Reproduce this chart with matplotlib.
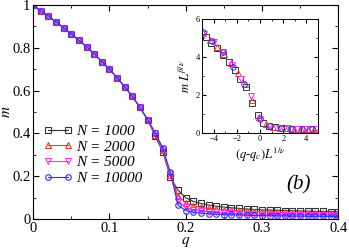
import numpy as np
import matplotlib
matplotlib.use("Agg")
import matplotlib.pyplot as plt
from matplotlib.ticker import MultipleLocator

plt.rcParams['font.family'] = ['Liberation Serif', 'DejaVu Serif']
plt.rcParams['mathtext.fontset'] = 'stix'

# main panel data: m(q) for several system sizes
q = [0.00, 0.01, 0.02, 0.03, 0.04, 0.05, 0.06, 0.07, 0.08, 0.09, 0.10,
     0.11, 0.12, 0.13, 0.14, 0.15, 0.16, 0.17, 0.18, 0.19, 0.20, 0.21,
     0.22, 0.23, 0.24, 0.25, 0.26, 0.27, 0.28, 0.29, 0.30, 0.31, 0.32,
     0.33, 0.34, 0.35, 0.36, 0.37, 0.38, 0.39, 0.40]
m_head = [1.0, 0.972, 0.948, 0.921, 0.893, 0.864, 0.835, 0.805, 0.772,
          0.736, 0.700, 0.660, 0.618, 0.573, 0.522, 0.465]
m_1000 = m_head + [0.388, 0.315, 0.195, 0.135, 0.100, 0.083, 0.073, 0.066,
                   0.060, 0.056, 0.053, 0.050, 0.047, 0.045, 0.043,
                   0.042, 0.041, 0.040, 0.039, 0.038, 0.037, 0.036,
                   0.036, 0.035, 0.034]
m_2000 = m_head + [0.395, 0.322, 0.205, 0.110, 0.075, 0.062, 0.055, 0.050,
                   0.046, 0.043, 0.041, 0.039, 0.037, 0.035, 0.034,
                   0.033, 0.032, 0.031, 0.030, 0.029, 0.028, 0.028,
                   0.027, 0.027, 0.026]
m_5000 = m_head + [0.400, 0.327, 0.210, 0.085, 0.055, 0.044, 0.038, 0.034,
                   0.031, 0.029, 0.027, 0.026, 0.025, 0.024, 0.023,
                   0.022, 0.021, 0.021, 0.020, 0.020, 0.019, 0.019,
                   0.018, 0.018, 0.018]
m_10000 = m_head + [0.404, 0.332, 0.218, 0.065, 0.040, 0.032, 0.028, 0.025,
                    0.023, 0.021, 0.020, 0.019, 0.018, 0.017, 0.016,
                    0.016, 0.015, 0.015, 0.014, 0.014, 0.013, 0.013,
                    0.013, 0.012, 0.012]

# inset data: scaling collapse
x_1000 = [-4.7, -4.2, -3.7, -3.2, -2.7, -2.2, -1.7, -1.2, -0.7, -0.2, 0.3,
          0.8, 1.3, 1.8, 2.3, 2.8, 3.3, 3.8, 4.3, 4.8]
y_1000 = [5.05, 4.75, 4.45, 4.1, 3.75, 3.3, 2.85, 2.4, 1.6, 0.95, 0.5,
          0.37, 0.3, 0.26, 0.24, 0.22, 0.21, 0.2, 0.19, 0.19]
x_2000 = [-4.9, -4.3, -3.7, -3.1, -2.5, -1.9, -1.3, -0.7, -0.1, 0.5, 1.1,
          1.7, 2.3, 2.9, 3.5, 4.1, 4.7]
y_2000 = [5.25, 4.9, 4.5, 4.15, 3.7, 3.15, 2.6, 1.75, 0.85, 0.45, 0.33,
          0.28, 0.25, 0.22, 0.21, 0.2, 0.19]
x_5000 = [-4.8, -4.0, -3.2, -2.4, -1.6, -0.8, 0.0, 0.8, 1.6, 2.4, 3.2, 4.0, 4.8]
y_5000 = [5.2, 4.8, 4.25, 3.6, 2.85, 1.95, 0.72, 0.37, 0.28, 0.24, 0.22, 0.2, 0.19]
x_10000 = [-4.95, -4.1, -3.2, -2.3, -1.4, 0.0, 0.9, 1.8, 2.7, 3.6, 4.5]
y_10000 = [5.3, 4.85, 4.25, 3.45, 2.6, 0.72, 0.36, 0.26, 0.23, 0.21, 0.2]

labels = ['N = 1000', 'N = 2000', 'N = 5000', 'N = 10000']
colors = ['#333333', '#ff3030', '#ff30ff', '#3030ff']
markers = ['s', '^', 'v', 'o']

fig = plt.figure(figsize=(3.49, 2.49), dpi=100)
ax = fig.add_axes([0.095, 0.12, 0.874, 0.86])

for m, lab, c, mk in zip([m_1000, m_2000, m_5000, m_10000], labels, colors, markers):
    ax.plot(q, m, color=c, lw=0.8, marker=mk, ms=4, mfc='none', mew=0.8, label=lab)

ax.set_xlim(0, 0.4)
ax.set_ylim(0, 1)
ax.xaxis.set_minor_locator(MultipleLocator(0.05))
ax.yaxis.set_minor_locator(MultipleLocator(0.1))
ax.set_xticks([0, 0.1, 0.2, 0.3, 0.4])
ax.set_xticklabels(['0', '0.1', '0.2', '0.3', '0.4'])
ax.set_yticks([0, 0.2, 0.4, 0.6, 0.8, 1.0])
ax.set_yticklabels(['0', '0.2', '0.4', '0.6', '0.8', '1'])
ax.tick_params(which='both', direction='in', top=True, right=True, labelsize=10.5, pad=2)
ax.tick_params(which='major', length=4)
ax.tick_params(which='minor', length=2)
for s in ax.spines.values():
    s.set_linewidth(0.8)
ax.set_xlabel('$q$', fontsize=11)
ax.set_ylabel('$m$', fontsize=11)
ax.xaxis.set_label_coords(0.5, -0.072)
ax.yaxis.set_label_coords(-0.066, 0.5)

ax.legend(loc='lower left', bbox_to_anchor=(0.0, 0.11), numpoints=2, frameon=False,
          prop={'style': 'italic', 'size': 11}, handlelength=1.9, handletextpad=0.2,
          labelspacing=0.12, borderpad=0.2)
ax.text(0.87, 0.16, '(b)', transform=ax.transAxes, fontsize=15, style='italic',
        ha='center', va='center')

# inset
ins = fig.add_axes([0.579, 0.466, 0.332, 0.458])
for xs, ys, c, mk in zip([x_1000, x_2000, x_5000, x_10000], [y_1000, y_2000, y_5000, y_10000],
                         colors, markers):
    ins.plot(xs, ys, ls='none', color=c, marker=mk, ms=4, mfc='none', mew=0.7)
ins.set_xlim(-5, 5)
ins.set_ylim(0, 6)
ins.xaxis.set_major_locator(MultipleLocator(2))
ins.xaxis.set_minor_locator(MultipleLocator(1))
ins.yaxis.set_major_locator(MultipleLocator(2))
ins.yaxis.set_minor_locator(MultipleLocator(1))
ins.tick_params(which='both', direction='in', top=True, right=True, labelsize=6, pad=1.5)
ins.tick_params(which='major', length=3)
ins.tick_params(which='minor', length=1.5)
for s in ins.spines.values():
    s.set_linewidth(0.7)
ins.set_xlabel(r'$(q$-$q_c)L^{1/\nu}$', fontsize=9, labelpad=2)
ins.set_ylabel(r'$m\ L^{\beta/\nu}$', fontsize=9, labelpad=2)

fig.savefig('out.png', dpi=100)
